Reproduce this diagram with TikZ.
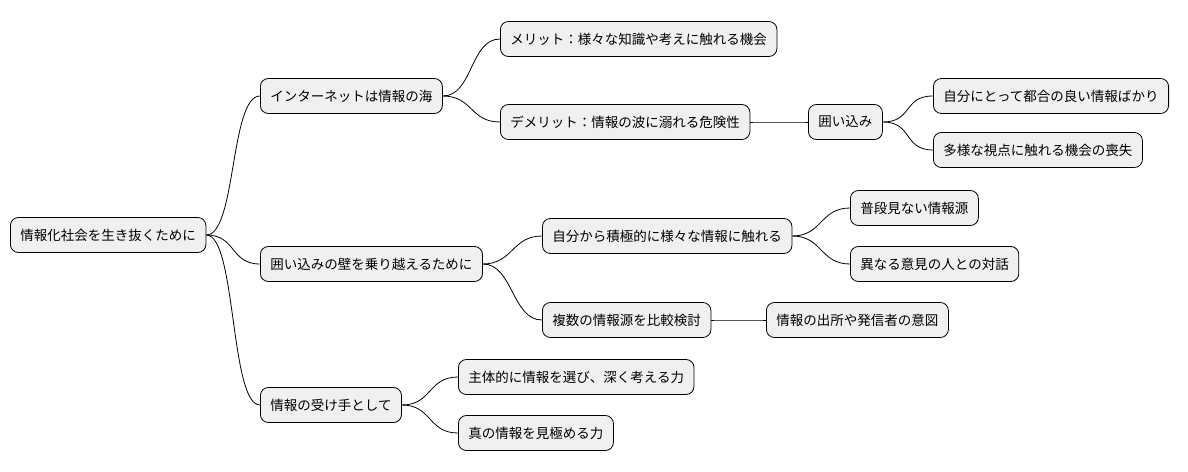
\documentclass[tikz,border=0pt]{standalone}
\usepackage{fontspec}
\setmainfont{Noto Sans CJK JP}
\begin{document}
\begin{tikzpicture}[x=1pt,y=-1pt,
  box/.style={draw=black,fill=black!6,rounded corners=8pt,line width=0.8pt,anchor=west,
    minimum height=35pt,inner xsep=10pt,font=\fontsize{13.5}{16}\selectfont},
  con/.style={line width=0.8pt}]
\useasboundingbox (0,0) rectangle (1188,471);
\node[box] (r) at (10,235) {情報化社会を生き抜くために};
\node[box] (a) at (260,96) {インターネットは情報の海};
\node[box] (a1) at (500,39) {メリット：様々な知識や考えに触れる機会};
\node[box] (a2) at (500,122) {デメリット：情報の波に溺れる危険性};
\node[box] (a2a) at (808,122) {囲い込み};
\node[box] (a2a1) at (933,96) {自分にとって都合の良い情報ばかり};
\node[box] (a2a2) at (933,150) {多様な視点に触れる機会の喪失};
\node[box] (b) at (260,264) {囲い込みの壁を乗り越えるために};
\node[box] (b1) at (542,236) {自分から積極的に様々な情報に触れる};
\node[box] (b1a) at (850,208) {普段見ない情報源};
\node[box] (b1b) at (850,264) {異なる意見の人との対話};
\node[box] (b2) at (542,320) {複数の情報源を比較検討};
\node[box] (b2a) at (766,320) {情報の出所や発信者の意図};
\node[box] (c) at (260,405) {情報の受け手として};
\node[box] (c1) at (458,377) {主体的に情報を選び、深く考える力};
\node[box] (c2) at (458,433) {真の情報を見極める力};
\foreach \p/\c in {r/a,r/b,r/c,a/a1,a/a2,a2/a2a,a2a/a2a1,a2a/a2a2,b/b1,b/b2,b1/b1a,b1/b1b,b2/b2a,c/c1,c/c2}{
  \draw[con] (\p.east) .. controls ([xshift=30pt]\p.east) and ([xshift=-30pt]\c.west) .. (\c.west);
}
\end{tikzpicture}
\end{document}
